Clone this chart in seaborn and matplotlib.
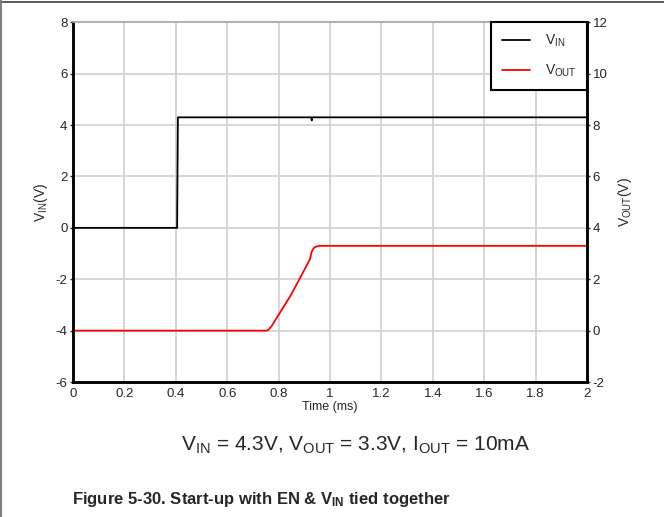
import matplotlib
matplotlib.use("Agg")
import matplotlib.pyplot as plt
from matplotlib.lines import Line2D
import seaborn as sns
import pandas as pd

t_in = [0.0, 0.405, 0.408, 0.927, 0.929, 0.931, 2.0]
v_in = [0.0, 0.0, 4.3, 4.3, 4.18, 4.3, 4.3]

t_out = [0.0, 0.754, 0.762, 0.773, 0.85, 0.922, 0.929, 0.936, 0.945, 0.961, 2.0]
v_out = [0.0, 0.0, 0.05, 0.18, 1.42, 2.78, 3.08, 3.2, 3.27, 3.3, 3.3]

x_ticks = [0, 0.2, 0.4, 0.6, 0.8, 1, 1.2, 1.4, 1.6, 1.8, 2]
x_labels = ["0", "0.2", "0.4", "0.6", "0.8", "1", "1.2", "1.4", "1.6", "1.8", "2"]
left_ticks = [-6, -4, -2, 0, 2, 4, 6, 8]
right_ticks = [-2, 0, 2, 4, 6, 8, 10, 12]

sns.set_style("white")
plt.rcParams["font.family"] = ["Liberation Sans", "DejaVu Sans"]
plt.rcParams["axes.unicode_minus"] = False
plt.rcParams["mathtext.fontset"] = "custom"
plt.rcParams["mathtext.rm"] = "Liberation Sans"
plt.rcParams["mathtext.it"] = "Liberation Sans"
plt.rcParams["mathtext.bf"] = "Liberation Sans:bold"

df_in = pd.DataFrame({"t": t_in, "v": v_in})
df_out = pd.DataFrame({"t": t_out, "v": v_out})

fig = plt.figure(figsize=(6.64, 5.17), dpi=100)
ax = fig.add_axes([0.110, 0.261, 0.774, 0.696])
ax2 = ax.twinx()

sns.lineplot(data=df_in, x="t", y="v", ax=ax, color="black", lw=1.3,
             estimator=None, sort=False)
sns.lineplot(data=df_out, x="t", y="v", ax=ax2, color="#ff0000", lw=1.3,
             estimator=None, sort=False)

ax.set_xlim(0, 2)
ax.set_ylim(-6, 8)
ax2.set_ylim(-2, 12)
ax.set_xticks(x_ticks)
ax.set_xticklabels(x_labels)
ax.set_yticks(left_ticks)
ax2.set_yticks(right_ticks)

ax.grid(True, color="#d0d0d0", lw=1.2)
ax.set_axisbelow(True)
for a in (ax, ax2):
    a.tick_params(labelsize=9.5, length=2, width=1, pad=2)
    for s in ("left", "right", "bottom"):
        a.spines[s].set_color("black")
        a.spines[s].set_linewidth(1.8)
    a.spines["top"].set_color("#b0b0b0")
    a.spines["top"].set_linewidth(1.2)

ax.set_xlabel("Time (ms)", fontsize=9, labelpad=1)
ax.set_ylabel(r"V$_{\mathregular{IN}}$(V)", fontsize=10, labelpad=4)
ax2.set_ylabel(r"V$_{\mathregular{OUT}}$(V)", fontsize=10, labelpad=6)

handles = [Line2D([], [], color="black", lw=1.3),
           Line2D([], [], color="#ff0000", lw=1.3)]
leg = ax2.legend(handles, [r"V$_{\mathregular{IN}}$", r"V$_{\mathregular{OUT}}$"],
                 loc="upper right", fontsize=10, frameon=True, fancybox=False,
                 edgecolor="black", framealpha=1, borderaxespad=0,
                 handlelength=2.0, handletextpad=1.1, borderpad=0.75,
                 labelspacing=1.0)
leg.get_frame().set_linewidth(1.5)

fig.text(0.536, 0.139,
         r"V$_{\mathregular{IN}}$ = 4.3V, V$_{\mathregular{OUT}}$ = 3.3V, I$_{\mathregular{OUT}}$ = 10mA",
         ha="center", va="center", fontsize=15)
fig.text(0.393, 0.033,
         r"Figure 5-30. Start-up with EN & V$_{\mathbf{IN}}$ tied together",
         ha="center", va="center", fontsize=12, fontweight="bold")

# page frame lines
fig.add_artist(Line2D([0, 1], [0.996, 0.996], color="#404040", lw=1.2,
                      transform=fig.transFigure))
fig.add_artist(Line2D([0.0015, 0.0015], [0, 1], color="#808080", lw=1.5,
                      transform=fig.transFigure))

fig.savefig("out.png", dpi=100)
